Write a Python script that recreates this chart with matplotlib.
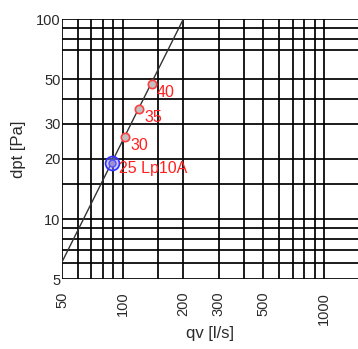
import matplotlib
matplotlib.use("Agg")
import matplotlib.pyplot as plt

plt.rcParams['font.family'] = ['Liberation Sans', 'DejaVu Sans']

# data
line_qv = [50, 200]
line_dp = [6.1, 100]
pt_qv = [139.4, 121.1, 103.1]
pt_dp = [47.5, 35.5, 25.9]
pt_labels = ["40", "35", "30"]
sel_qv = [88.9]
sel_dp = [19.05]
sel_labels = ["25 Lp10A"]
x_grid = [50, 60, 70, 80, 90, 100, 150, 200, 300, 400, 500, 600, 700, 800, 900, 1000]
y_grid = [5, 6, 7, 8, 9, 10, 15, 20, 30, 40, 50, 70, 80, 90, 100]
x_ticks = [50, 100, 200, 300, 500, 1000]
y_ticks = [5, 10, 20, 30, 50, 100]

W, H = 358, 349
fig = plt.figure(figsize=(W / 100, H / 100), dpi=100)
ax = fig.add_axes([62 / W, (H - 279.3) / H, (W - 62) / W, 260 / H])
ax.set_xscale('log')
ax.set_yscale('log')
ax.set_xlim(50, 1476)
ax.set_ylim(5, 100)

for x in x_grid:
    ax.axvline(x, color='black', lw=1.25, zorder=1)
for y in y_grid:
    ax.axhline(y, color='black', lw=1.25, zorder=1)

for s in ax.spines.values():
    s.set_visible(False)

ax.plot(line_qv, line_dp, color='#333333', lw=1.0, zorder=2)

ax.plot(pt_qv, pt_dp, linestyle='none', marker='o', markersize=6,
        markerfacecolor='#c0c0c0', markeredgecolor='#ff4040', markeredgewidth=1.2, zorder=3)
for q, d, t in zip(pt_qv, pt_dp, pt_labels):
    ax.annotate(t, (q, d), xytext=(3.4, -6.3), textcoords='offset points',
                color='#ff2020', fontsize=11.5, ha='left', va='center', zorder=4)

ax.plot(sel_qv, sel_dp, linestyle='none', marker='o', markersize=10,
        markerfacecolor=(0.55, 0.55, 1.0, 0.45), markeredgecolor='#3030ff', markeredgewidth=1.2, zorder=3)
ax.plot(sel_qv, sel_dp, linestyle='none', marker='o', markersize=5,
        markerfacecolor='#a090d0', markeredgecolor='#5050ff', markeredgewidth=1.0, zorder=3)
for q, d, t in zip(sel_qv, sel_dp, sel_labels):
    ax.annotate(t, (q, d), xytext=(4.8, -3.8), textcoords='offset points',
                color='#ff2020', fontsize=11.5, ha='left', va='center', zorder=4)

ax.set_xticks(x_ticks)
ax.set_xticklabels([str(v) for v in x_ticks], rotation=90, va='top')
ax.set_yticks(y_ticks)
ax.set_yticklabels([str(v) for v in y_ticks])
ax.minorticks_off()
ax.tick_params(axis='both', length=0, labelsize=10.5, colors='#2a2a2a')
ax.tick_params(axis='x', pad=9)
ax.tick_params(axis='y', pad=1)

ax.set_xlabel('qv [l/s]', fontsize=12, color='#2a2a2a', labelpad=1)
ax.set_ylabel('dpt [Pa]', fontsize=12, color='#2a2a2a', labelpad=7)

fig.savefig('out.png', dpi=100)
